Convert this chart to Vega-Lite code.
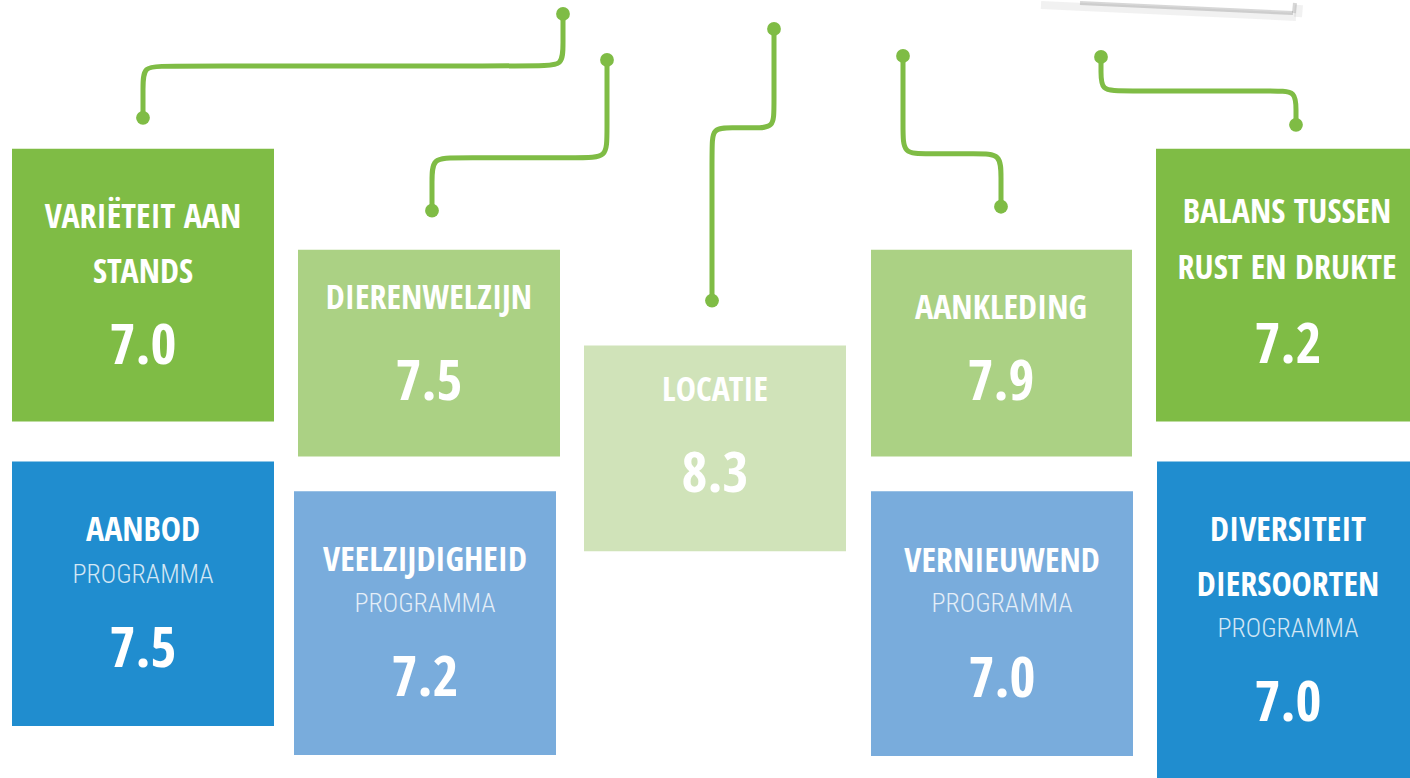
{
  "$schema": "https://vega.github.io/schema/vega-lite/v6.json",
  "width": 1410,
  "height": 778,
  "autosize": {"type": "fit", "contains": "padding"},
  "padding": 0,
  "background": "white",
  "config": {"view": {"stroke": null}},
  "datasets": {
    "schaduw": [
      {"band": "a", "x": 1080, "y": 2, "x2": 1293, "y2": 12},
      {"band": "b", "x": 1041, "y": 4, "x2": 1296, "y2": 16},
      {"band": "a", "x": 1294, "y": 12, "x2": 1295, "y2": 2},
      {"band": "b", "x": 1298, "y": 16, "x2": 1299, "y2": 4}
    ],
    "verbindingen": [
      {"pad": 1, "i": 0, "x": 143, "y": 117}, {"pad": 1, "i": 1, "x": 143, "y": 87}, {"pad": 1, "i": 2, "x": 143, "y": 65}, {"pad": 1, "i": 3, "x": 165, "y": 65},
      {"pad": 1, "i": 4, "x": 541, "y": 65}, {"pad": 1, "i": 5, "x": 563, "y": 65}, {"pad": 1, "i": 6, "x": 563, "y": 43}, {"pad": 1, "i": 7, "x": 563, "y": 13},
      {"pad": 2, "i": 0, "x": 607, "y": 59}, {"pad": 2, "i": 1, "x": 607, "y": 133}, {"pad": 2, "i": 2, "x": 607, "y": 157}, {"pad": 2, "i": 3, "x": 583, "y": 157},
      {"pad": 2, "i": 4, "x": 455, "y": 157}, {"pad": 2, "i": 5, "x": 432, "y": 157}, {"pad": 2, "i": 6, "x": 432, "y": 180}, {"pad": 2, "i": 7, "x": 432, "y": 210},
      {"pad": 3, "i": 0, "x": 774, "y": 28}, {"pad": 3, "i": 1, "x": 774, "y": 107}, {"pad": 3, "i": 2, "x": 774, "y": 127}, {"pad": 3, "i": 3, "x": 754, "y": 127},
      {"pad": 3, "i": 4, "x": 732, "y": 127}, {"pad": 3, "i": 5, "x": 712, "y": 127}, {"pad": 3, "i": 6, "x": 712, "y": 147}, {"pad": 3, "i": 7, "x": 712, "y": 300},
      {"pad": 4, "i": 0, "x": 903, "y": 55}, {"pad": 4, "i": 1, "x": 903, "y": 130}, {"pad": 4, "i": 2, "x": 903, "y": 153}, {"pad": 4, "i": 3, "x": 926, "y": 153},
      {"pad": 4, "i": 4, "x": 978, "y": 153}, {"pad": 4, "i": 5, "x": 1001, "y": 153}, {"pad": 4, "i": 6, "x": 1001, "y": 176}, {"pad": 4, "i": 7, "x": 1001, "y": 206},
      {"pad": 5, "i": 0, "x": 1101, "y": 56}, {"pad": 5, "i": 1, "x": 1101, "y": 70}, {"pad": 5, "i": 2, "x": 1101, "y": 90}, {"pad": 5, "i": 3, "x": 1121, "y": 90},
      {"pad": 5, "i": 4, "x": 1276, "y": 90}, {"pad": 5, "i": 5, "x": 1296, "y": 90}, {"pad": 5, "i": 6, "x": 1296, "y": 110}, {"pad": 5, "i": 7, "x": 1296, "y": 124}
    ],
    "vakken": [
      {"onderdeel": "Variëteit aan stands", "score": 7.0, "tint": "groen", "x0": 12, "x1": 274, "y0": 148, "y1": 421, "cx": 143, "sy": 346},
      {"onderdeel": "Dierenwelzijn", "score": 7.5, "tint": "lichtgroen", "x0": 298, "x1": 560, "y0": 249, "y1": 456, "cx": 429, "sy": 382},
      {"onderdeel": "Locatie", "score": 8.3, "tint": "bleekgroen", "x0": 584, "x1": 846, "y0": 345, "y1": 551, "cx": 715, "sy": 475},
      {"onderdeel": "Aankleding", "score": 7.9, "tint": "lichtgroen", "x0": 871, "x1": 1132, "y0": 249, "y1": 456, "cx": 1001, "sy": 382},
      {"onderdeel": "Balans tussen rust en drukte", "score": 7.2, "tint": "groen", "x0": 1156, "x1": 1410, "y0": 148, "y1": 421, "cx": 1288, "sy": 345},
      {"onderdeel": "Aanbod programma", "score": 7.5, "tint": "blauw", "x0": 12, "x1": 274, "y0": 461, "y1": 726, "cx": 143, "sy": 650},
      {"onderdeel": "Veelzijdigheid programma", "score": 7.2, "tint": "lichtblauw", "x0": 294, "x1": 556, "y0": 491, "y1": 755, "cx": 425, "sy": 679},
      {"onderdeel": "Vernieuwend programma", "score": 7.0, "tint": "lichtblauw", "x0": 871, "x1": 1133, "y0": 491, "y1": 756, "cx": 1002, "sy": 680},
      {"onderdeel": "Diversiteit diersoorten programma", "score": 7.0, "tint": "blauw", "x0": 1157, "x1": 1410, "y0": 461, "y1": 778, "cx": 1288, "sy": 704}
    ],
    "titels": [
      {"tekst": "VARIËTEIT AAN", "x": 143, "y": 217},
      {"tekst": "STANDS", "x": 143, "y": 272},
      {"tekst": "DIERENWELZIJN", "x": 429, "y": 298},
      {"tekst": "LOCATIE", "x": 715, "y": 391},
      {"tekst": "AANKLEDING", "x": 1001, "y": 308},
      {"tekst": "BALANS TUSSEN", "x": 1287, "y": 212},
      {"tekst": "RUST EN DRUKTE", "x": 1287, "y": 268},
      {"tekst": "AANBOD", "x": 143, "y": 531},
      {"tekst": "VEELZIJDIGHEID", "x": 425, "y": 561},
      {"tekst": "VERNIEUWEND", "x": 1002, "y": 562},
      {"tekst": "DIVERSITEIT", "x": 1288, "y": 531},
      {"tekst": "DIERSOORTEN", "x": 1288, "y": 586}
    ],
    "ondertitels": [
      {"tekst": "PROGRAMMA", "x": 143, "y": 575},
      {"tekst": "PROGRAMMA", "x": 425, "y": 604},
      {"tekst": "PROGRAMMA", "x": 1002, "y": 604},
      {"tekst": "PROGRAMMA", "x": 1288, "y": 629}
    ]
  },
  "layer": [
    {
      "data": {"name": "schaduw"},
      "mark": {"type": "rule", "color": "#7a7a7a", "strokeCap": "butt"},
      "encoding": {
        "x": {"field": "x", "type": "quantitative", "scale": {"domain": [0, 1410], "nice": false, "zero": false}, "axis": null},
        "y": {"field": "y", "type": "quantitative", "scale": {"domain": [0, 778], "reverse": true, "nice": false, "zero": false}, "axis": null},
        "x2": {"field": "x2"},
        "y2": {"field": "y2"},
        "opacity": {"field": "band", "type": "nominal", "scale": {"domain": ["a", "b"], "range": [0.3, 0.1]}, "legend": null},
        "strokeWidth": {"field": "band", "type": "nominal", "scale": {"domain": ["a", "b"], "range": [4, 8]}, "legend": null}
      }
    },
    {
      "data": {"name": "verbindingen"},
      "mark": {"type": "line", "interpolate": "basis", "color": "#7fbc45", "strokeWidth": 5, "strokeCap": "round"},
      "encoding": {
        "x": {"field": "x", "type": "quantitative", "scale": {"domain": [0, 1410], "nice": false, "zero": false}, "axis": null},
        "y": {"field": "y", "type": "quantitative", "scale": {"domain": [0, 778], "reverse": true, "nice": false, "zero": false}, "axis": null},
        "detail": {"field": "pad", "type": "nominal"},
        "order": {"field": "i", "type": "quantitative"}
      }
    },
    {
      "data": {"name": "verbindingen"},
      "transform": [{"filter": "datum.i == 0 || datum.i == 7"}],
      "mark": {"type": "point", "filled": true, "shape": "circle", "color": "#7fbc45", "opacity": 1, "size": 190},
      "encoding": {
        "x": {"field": "x", "type": "quantitative", "scale": {"domain": [0, 1410], "nice": false, "zero": false}, "axis": null},
        "y": {"field": "y", "type": "quantitative", "scale": {"domain": [0, 778], "reverse": true, "nice": false, "zero": false}, "axis": null}
      }
    },
    {
      "data": {"name": "vakken"},
      "mark": {"type": "rect"},
      "encoding": {
        "x": {"field": "x0", "type": "quantitative", "scale": {"domain": [0, 1410], "nice": false, "zero": false}, "axis": null},
        "x2": {"field": "x1"},
        "y": {"field": "y0", "type": "quantitative", "scale": {"domain": [0, 778], "reverse": true, "nice": false, "zero": false}, "axis": null},
        "y2": {"field": "y1"},
        "color": {"field": "tint", "type": "nominal", "scale": {"domain": ["groen", "lichtgroen", "bleekgroen", "blauw", "lichtblauw"], "range": ["#7fbc45", "#abd184", "#d0e3b9", "#208dcf", "#79acdc"]}, "legend": null},
        "tooltip": [{"field": "onderdeel"}, {"field": "score", "format": ".1f"}]
      }
    },
    {
      "data": {"name": "titels"},
      "mark": {"type": "text", "font": "Open Sans Condensed, Roboto Condensed, sans-serif", "fontWeight": "bold", "fontSize": 34, "color": "white", "align": "center", "baseline": "middle"},
      "encoding": {
        "x": {"field": "x", "type": "quantitative", "scale": {"domain": [0, 1410], "nice": false, "zero": false}, "axis": null},
        "y": {"field": "y", "type": "quantitative", "scale": {"domain": [0, 778], "reverse": true, "nice": false, "zero": false}, "axis": null},
        "text": {"field": "tekst"}
      }
    },
    {
      "data": {"name": "ondertitels"},
      "mark": {"type": "text", "font": "Roboto Condensed, sans-serif", "fontWeight": 300, "fontSize": 26, "color": "white", "opacity": 0.8, "align": "center", "baseline": "middle"},
      "encoding": {
        "x": {"field": "x", "type": "quantitative", "scale": {"domain": [0, 1410], "nice": false, "zero": false}, "axis": null},
        "y": {"field": "y", "type": "quantitative", "scale": {"domain": [0, 778], "reverse": true, "nice": false, "zero": false}, "axis": null},
        "text": {"field": "tekst"}
      }
    },
    {
      "data": {"name": "vakken"},
      "mark": {"type": "text", "font": "Open Sans Condensed, Roboto Condensed, sans-serif", "fontWeight": "bold", "fontSize": 56, "color": "white", "align": "center", "baseline": "middle"},
      "encoding": {
        "x": {"field": "cx", "type": "quantitative", "scale": {"domain": [0, 1410], "nice": false, "zero": false}, "axis": null},
        "y": {"field": "sy", "type": "quantitative", "scale": {"domain": [0, 778], "reverse": true, "nice": false, "zero": false}, "axis": null},
        "text": {"field": "score", "type": "quantitative", "format": ".1f"}
      }
    }
  ]
}
